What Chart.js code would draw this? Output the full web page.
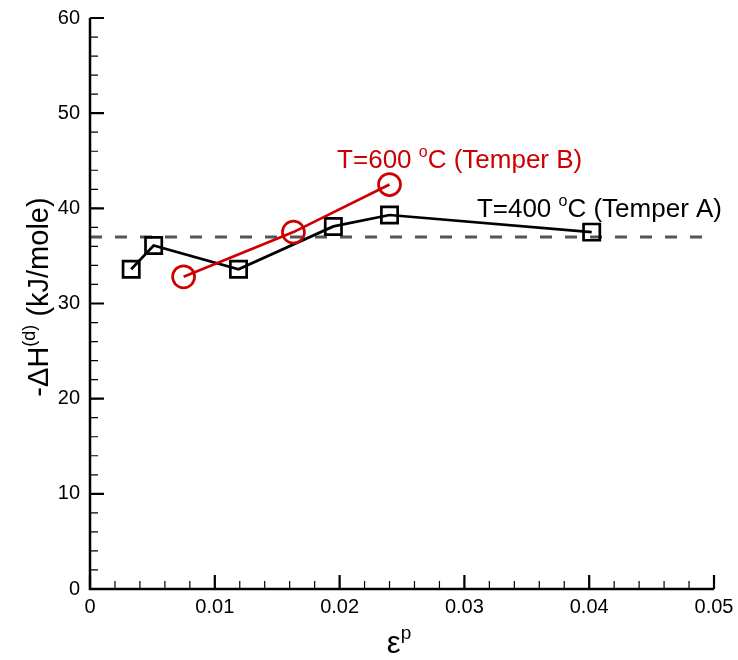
<!DOCTYPE html>
<html>
<head>
<meta charset="utf-8">
<title>Dissociation enthalpy vs plastic strain</title>
<script src="https://cdn.jsdelivr.net/npm/chart.js@4/dist/chart.umd.min.js"></script>
<style>
    html, body { margin: 0; padding: 0; background: #fff; }
    #wrap { width: 738px; height: 660px; }
</style>
</head>
<body>
<div id="wrap"><canvas id="chart" width="738" height="660"></canvas></div>
<script>
// Data
const strainA = [0.0033, 0.0051, 0.0119, 0.0195, 0.0240, 0.0402];
const enthalpyA = [33.6, 36.1, 33.6, 38.1, 39.3, 37.5];
const strainB = [0.0075, 0.0163, 0.0240];
const enthalpyB = [32.8, 37.5, 42.5];
const refLevel = 37.0;
const xTicks = [0, 0.01, 0.02, 0.03, 0.04, 0.05];
const yTicks = [0, 10, 20, 30, 40, 50, 60];

const FONT = "'Liberation Sans', Arial, Helvetica, sans-serif";
Chart.defaults.font.family = FONT;
Chart.defaults.color = '#000';

const toPoints = (xs, ys) => xs.map((x, i) => ({ x: x, y: ys[i] }));

// draw text with superscript pieces
function richWidth(ctx, parts) {
    let w = 0;
    parts.forEach(p => {
        ctx.font = p.size + 'px ' + FONT;
        w += ctx.measureText(p.t).width;
    });
    return w;
}
function drawRich(ctx, parts, x, y) {
    let cx = x;
    parts.forEach(p => {
        ctx.font = p.size + 'px ' + FONT;
        ctx.fillText(p.t, cx, y - (p.rise || 0));
        cx += ctx.measureText(p.t).width;
    });
}

// scales keep a fixed size, no extra room for overflowing labels
function fixScale(scale, size) {
    if (scale.isHorizontal()) scale.height = size;
    else scale.width = size;
    scale.paddingTop = 0;
    scale.paddingBottom = 0;
    scale.paddingLeft = 0;
    scale.paddingRight = 0;
}

// axis lines, inward ticks, titles and labels
const framePlugin = {
    id: 'frame',
    afterDraw(chart) {
        const ctx = chart.ctx;
        const xs = chart.scales.x, ys = chart.scales.y;
        const area = chart.chartArea;
        ctx.save();
        ctx.strokeStyle = '#000';
        ctx.lineCap = 'butt';

        // minor ticks
        ctx.lineWidth = 1.2;
        ctx.beginPath();
        for (let i = 0; i <= 25; i++) {
            const px = xs.getPixelForValue(i * 0.002);
            ctx.moveTo(px, area.bottom);
            ctx.lineTo(px, area.bottom - 8);
        }
        for (let i = 0; i <= 30; i++) {
            const py = ys.getPixelForValue(i * 2);
            ctx.moveTo(area.left, py);
            ctx.lineTo(area.left + 8, py);
        }
        ctx.stroke();

        // major ticks
        ctx.lineWidth = 2.2;
        ctx.beginPath();
        xTicks.forEach(v => {
            const px = xs.getPixelForValue(v);
            ctx.moveTo(px, area.bottom);
            ctx.lineTo(px, area.bottom - 14);
        });
        yTicks.forEach(v => {
            const py = ys.getPixelForValue(v);
            ctx.moveTo(area.left, py);
            ctx.lineTo(area.left + 14, py);
        });
        ctx.stroke();

        // axis lines
        ctx.lineWidth = 2.5;
        ctx.beginPath();
        ctx.moveTo(area.left, area.top);
        ctx.lineTo(area.left, area.bottom);
        ctx.lineTo(area.right, area.bottom);
        ctx.stroke();

        ctx.fillStyle = '#000';
        ctx.textBaseline = 'alphabetic';

        // x title
        const xt = [{ t: '\u03b5', size: 31 }, { t: 'p', size: 19, rise: 14 }];
        const xw = richWidth(ctx, xt);
        drawRich(ctx, xt, (area.left + area.right) / 2 - xw / 2 - 3, 653);

        // y title
        const yt = [{ t: '-\u0394H', size: 29 }, { t: '(d)', size: 18, rise: 13 }, { t: ' (kJ/mole)', size: 29 }];
        const yw = richWidth(ctx, yt);
        ctx.save();
        ctx.translate(48, 297);
        ctx.rotate(-Math.PI / 2);
        drawRich(ctx, yt, -yw / 2, 0);
        ctx.restore();

        // series labels
        ctx.fillStyle = '#cc0000';
        drawRich(ctx, [{ t: 'T=600 ', size: 26 }, { t: 'o', size: 16, rise: 11 }, { t: 'C (Temper B)', size: 26 }],
            xs.getPixelForValue(0.0198), ys.getPixelForValue(44.25));
        ctx.fillStyle = '#000';
        drawRich(ctx, [{ t: 'T=400 ', size: 26 }, { t: 'o', size: 16, rise: 11 }, { t: 'C (Temper A)', size: 26 }],
            xs.getPixelForValue(0.0310), ys.getPixelForValue(39.05));

        ctx.restore();
    }
};

new Chart(document.getElementById('chart'), {
    type: 'line',
    data: {
        datasets: [{
            label: 'T=600 C (Temper B)',
            data: toPoints(strainB, enthalpyB),
            borderColor: '#cc0000',
            borderWidth: 2.7,
            backgroundColor: 'rgba(0,0,0,0)',
            pointStyle: 'circle',
            pointRadius: 11,
            pointBorderWidth: 2.7,
            pointBorderColor: '#cc0000',
            pointBackgroundColor: 'rgba(0,0,0,0)'
        }, {
            label: 'T=400 C (Temper A)',
            data: toPoints(strainA, enthalpyA),
            borderColor: '#000',
            borderWidth: 2.7,
            backgroundColor: 'rgba(0,0,0,0)',
            pointStyle: 'rect',
            pointRadius: 11.5,
            pointBorderWidth: 2.7,
            pointBorderColor: '#000',
            pointBackgroundColor: 'rgba(0,0,0,0)'
        }, {
            label: 'reference',
            data: [{ x: xTicks[0], y: refLevel }, { x: xTicks[xTicks.length - 1], y: refLevel }],
            borderColor: '#555',
            borderWidth: 3,
            borderDash: [12, 13],
            pointRadius: 0
        }]
    },
    options: {
        responsive: false,
        animation: false,
        layout: { padding: { top: 18, right: 24, left: 0, bottom: 0 } },
        plugins: {
            legend: { display: false },
            tooltip: { enabled: false }
        },
        scales: {
            x: {
                type: 'linear',
                min: 0,
                max: 0.05,
                grid: { display: false, drawTicks: false },
                border: { display: false },
                ticks: {
                    stepSize: 0.01,
                    padding: 6,
                    font: { size: 20 },
                    color: '#000',
                    maxRotation: 0,
                    callback: v => v === 0 ? '0' : v.toFixed(2)
                },
                afterFit: scale => fixScale(scale, 71)
            },
            y: {
                min: 0,
                max: 60,
                grid: { display: false, drawTicks: false },
                border: { display: false },
                ticks: {
                    stepSize: 10,
                    padding: 10,
                    font: { size: 20 },
                    color: '#000'
                },
                afterFit: scale => fixScale(scale, 90)
            }
        }
    },
    plugins: [framePlugin]
});
</script>
</body>
</html>
